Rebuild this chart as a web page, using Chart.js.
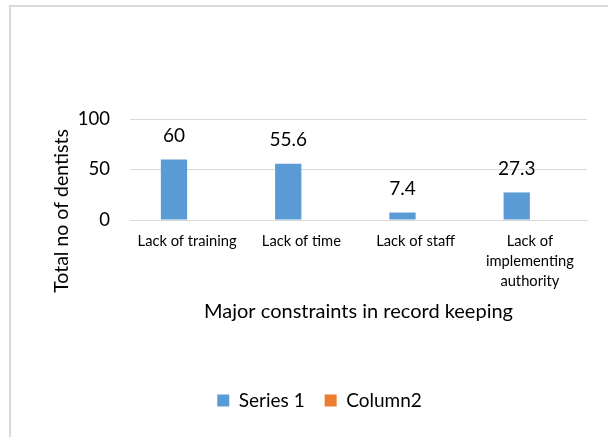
<!DOCTYPE html>
<html lang="en">
<head>
    <meta charset="UTF-8">
    <title>Major constraints in record keeping</title>
    <style>
        body {
            margin: 0;
            background-color: #fff;
        }

        .chart-box {
            position: relative;
            width: 608px;
            height: 437px;
        }
    </style>
</head>
<body>
    <div class="chart-box">
        <canvas id="constraintsChart" width="608" height="437"></canvas>
    </div>

    <script src="https://cdn.jsdelivr.net/npm/chart.js"></script>
    <script>
        const categories = ['Lack of training', 'Lack of time', 'Lack of staff', ['Lack of', 'implementing', 'authority']];
        const series1 = [60, 55.6, 7.4, 27.3];
        const column2 = [null, null, null, null];
        const yTicks = [0, 50, 100];
        const yTitle = 'Total no of dentists';

        const FONT = "Lato, sans-serif";

        // thin grey frame along the top and left edge
        const framePlugin = {
            id: 'frame',
            beforeDraw(chart) {
                const ctx = chart.ctx;
                ctx.save();
                ctx.strokeStyle = '#d9d9d9';
                ctx.lineWidth = 2;
                ctx.beginPath();
                ctx.moveTo(10, 437);
                ctx.lineTo(10, 6);
                ctx.lineTo(608, 6);
                ctx.stroke();
                ctx.restore();
            }
        };

        // y title sits lower than the plot middle, so it is drawn here
        const yTitlePlugin = {
            id: 'yTitle',
            afterDraw(chart) {
                const ctx = chart.ctx;
                ctx.save();
                ctx.translate(62, 211);
                ctx.rotate(-Math.PI / 2);
                ctx.font = '19.5px ' + FONT;
                ctx.fillStyle = '#000';
                ctx.textAlign = 'center';
                ctx.textBaseline = 'middle';
                ctx.fillText(yTitle, 0, 0);
                ctx.restore();
            }
        };

        // value labels above the Series 1 bars
        const valueLabels = {
            id: 'valueLabels',
            afterDatasetsDraw(chart) {
                const ctx = chart.ctx;
                const meta = chart.getDatasetMeta(0);
                ctx.save();
                ctx.font = '19px ' + FONT;
                ctx.fillStyle = '#000';
                ctx.textAlign = 'center';
                ctx.textBaseline = 'middle';
                meta.data.forEach(function(bar, i) {
                    ctx.fillText(String(series1[i]), bar.x, bar.y - 24);
                });
                ctx.restore();
            }
        };

        const ctx = document.getElementById('constraintsChart').getContext('2d');
        const chart = new Chart(ctx, {
            type: 'bar',
            data: {
                labels: categories,
                datasets: [{
                    label: 'Series 1',
                    data: series1,
                    backgroundColor: '#5B9BD5',
                    categoryPercentage: 0.46,
                    barPercentage: 1
                }, {
                    label: 'Column2',
                    data: column2,
                    backgroundColor: '#ED7D31',
                    categoryPercentage: 0.46,
                    barPercentage: 1
                }]
            },
            options: {
                responsive: false,
                animation: false,
                layout: {
                    padding: { top: 119, right: 21, bottom: 17, left: 52 }
                },
                plugins: {
                    legend: {
                        position: 'bottom',
                        labels: {
                            boxWidth: 12,
                            boxHeight: 12,
                            padding: 20,
                            color: '#000',
                            font: { family: FONT, size: 19 }
                        }
                    },
                    tooltip: { enabled: false }
                },
                scales: {
                    x: {
                        grid: { display: false, drawTicks: false },
                        border: { color: '#d9d9d9' },
                        ticks: {
                            color: '#000',
                            padding: 11,
                            maxRotation: 0,
                            autoSkip: false,
                            font: { family: FONT, size: 14.7, lineHeight: 1.36 }
                        },
                        title: {
                            display: true,
                            text: 'Major constraints in record keeping',
                            color: '#000',
                            padding: { top: 10, bottom: 47 },
                            font: { family: FONT, size: 20 }
                        },
                        afterFit(scale) {
                            scale.height = 151;
                        }
                    },
                    y: {
                        min: 0,
                        max: 100,
                        afterBuildTicks(scale) {
                            scale.ticks = yTicks.map(v => ({ value: v }));
                        },
                        grid: { color: '#d9d9d9', drawTicks: false },
                        border: { display: false },
                        ticks: {
                            color: '#000',
                            padding: 20,
                            font: { family: FONT, size: 18.5 }
                        },
                        afterFit(scale) {
                            scale.width = 78;
                        }
                    }
                }
            },
            plugins: [framePlugin, yTitlePlugin, valueLabels]
        });
    </script>
</body>
</html>
